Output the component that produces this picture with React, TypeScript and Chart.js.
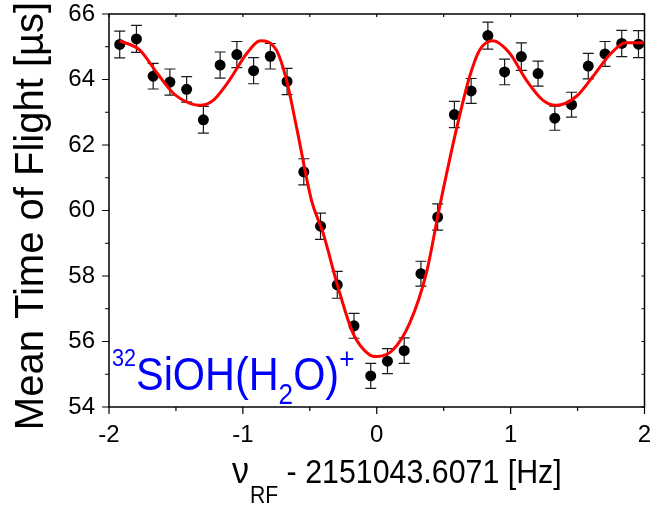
import React, { useEffect, useRef } from 'react';
import { Chart, registerables } from 'chart.js';

Chart.register(...registerables);

const FONT = '"Liberation Sans", Arial, Helvetica, sans-serif';

// Measured data points: detuning (Hz) and mean time of flight (µs)
const freqX = [-1.92, -1.795, -1.67, -1.545, -1.42, -1.295, -1.17, -1.045, -0.92, -0.795, -0.67, -0.545, -0.42, -0.295, -0.17, -0.045, 0.08, 0.205, 0.33, 0.455, 0.58, 0.705, 0.83, 0.955, 1.08, 1.205, 1.33, 1.455, 1.58, 1.705, 1.83, 1.955];
const tofMean = [65.07, 65.24, 64.10, 63.92, 63.70, 62.77, 64.44, 64.76, 64.27, 64.71, 63.94, 61.18, 59.52, 57.73, 56.48, 54.95, 55.40, 55.72, 58.07, 59.80, 62.93, 63.65, 65.34, 64.23, 64.70, 64.18, 62.82, 63.23, 64.41, 64.78, 65.10, 65.08];
const tofErr = [0.41, 0.41, 0.39, 0.40, 0.39, 0.41, 0.40, 0.40, 0.40, 0.39, 0.40, 0.40, 0.40, 0.41, 0.38, 0.38, 0.38, 0.39, 0.38, 0.40, 0.40, 0.38, 0.41, 0.39, 0.42, 0.38, 0.37, 0.38, 0.39, 0.38, 0.40, 0.41];

// Fit curve
const fitX = [-1.92, -1.77, -1.64, -1.52, -1.395, -1.32, -1.22, -1.1, -0.97, -0.868, -0.75, -0.674, -0.6, -0.488, -0.4, -0.29, -0.177, -0.052, 0.0, 0.12, 0.246, 0.37, 0.47, 0.594, 0.694, 0.769, 0.868, 0.993, 1.117, 1.24, 1.34, 1.49, 1.614, 1.739, 1.863, 2.0];
const fitY = [65.18, 64.9, 64.19, 63.58, 63.27, 63.21, 63.37, 63.98, 64.8, 65.18, 64.9, 63.98, 62.56, 60.32, 59.3, 57.67, 56.25, 55.59, 55.54, 55.74, 56.56, 58.08, 60.12, 62.46, 64.09, 64.9, 65.18, 64.8, 63.98, 63.37, 63.21, 63.48, 64.09, 64.75, 65.12, 65.12];

// Axis ticks
const xTickValues = [-2, -1.5, -1, -0.5, 0, 0.5, 1, 1.5, 2];
const xMajorTicks = [-2, -1, 0, 1, 2];
const yTickValues = [54, 55, 56, 57, 58, 59, 60, 61, 62, 63, 64, 65, 66];
const yMajorTicks = [54, 56, 58, 60, 62, 64, 66];

const yTitle = 'Mean Time of Flight [µs]';
const xTitleMain = 'ν';
const xTitleSub = 'RF';
const xTitleRest = ' - 2151043.6071 [Hz]';

const errorBarsPlugin = {
  id: 'errorBars',
  beforeDatasetsDraw(chart: any) {
    const { ctx, scales } = chart;
    const x = scales.x;
    const y = scales.y;
    ctx.save();
    ctx.strokeStyle = '#1a1a1a';
    ctx.lineWidth = 1.2;
    for (let i = 0; i < freqX.length; i++) {
      const px = x.getPixelForValue(freqX[i]);
      const top = y.getPixelForValue(tofMean[i] + tofErr[i]);
      const bot = y.getPixelForValue(tofMean[i] - tofErr[i]);
      ctx.beginPath();
      ctx.moveTo(px, top);
      ctx.lineTo(px, bot);
      ctx.moveTo(px - 5.5, top);
      ctx.lineTo(px + 5.5, top);
      ctx.moveTo(px - 5.5, bot);
      ctx.lineTo(px + 5.5, bot);
      ctx.stroke();
    }
    ctx.restore();
  },
};

const framePlugin = {
  id: 'frameAndText',
  afterDraw(chart: any) {
    const { ctx, chartArea: a, scales } = chart;
    const x = scales.x;
    const y = scales.y;
    ctx.save();
    ctx.strokeStyle = '#000';
    ctx.lineWidth = 1.5;
    ctx.strokeRect(a.left, a.top, a.right - a.left, a.bottom - a.top);

    ctx.lineWidth = 1.2;
    ctx.beginPath();
    for (const v of xTickValues) {
      const px = x.getPixelForValue(v);
      const major = xMajorTicks.includes(v);
      ctx.moveTo(px, a.bottom);
      ctx.lineTo(px, a.bottom + (major ? 7 : 4));
      ctx.moveTo(px, a.top);
      ctx.lineTo(px, a.top + 3);
    }
    for (const v of yTickValues) {
      const py = y.getPixelForValue(v);
      const major = yMajorTicks.includes(v);
      ctx.moveTo(a.left, py);
      ctx.lineTo(a.left - (major ? 7 : 4), py);
      ctx.moveTo(a.right, py);
      ctx.lineTo(a.right - 3, py);
    }
    ctx.stroke();

    // Y axis title
    ctx.fillStyle = '#000';
    ctx.save();
    ctx.translate(43, 216);
    ctx.rotate(-Math.PI / 2);
    ctx.font = `40px ${FONT}`;
    ctx.textAlign = 'center';
    ctx.textBaseline = 'alphabetic';
    ctx.fillText(yTitle, 0, 0);
    ctx.restore();

    // X axis title with subscript
    ctx.textAlign = 'left';
    ctx.textBaseline = 'alphabetic';
    ctx.save();
    ctx.translate(232, 0);
    ctx.scale(0.92, 1);
    let cx = 0;
    ctx.font = `37px ${FONT}`;
    ctx.fillText(xTitleMain, cx, 483);
    cx += ctx.measureText(xTitleMain).width + 1;
    ctx.font = `23px ${FONT}`;
    ctx.fillText(xTitleSub, cx, 503);
    cx += ctx.measureText(xTitleSub).width;
    ctx.font = `33px ${FONT}`;
    ctx.fillText(xTitleRest, cx, 483);
    ctx.restore();

    // Annotation
    ctx.fillStyle = '#0000ff';
    ctx.save();
    ctx.translate(112, 0);
    ctx.scale(0.9, 1);
    let ax = 0;
    ctx.font = `24px ${FONT}`;
    ctx.fillText('32', ax, 366);
    ax += ctx.measureText('32').width;
    ctx.font = `46px ${FONT}`;
    ctx.fillText('SiOH(H', ax, 390);
    ax += ctx.measureText('SiOH(H').width;
    ctx.font = `29px ${FONT}`;
    ctx.fillText('2', ax, 404);
    ax += ctx.measureText('2').width;
    ctx.font = `46px ${FONT}`;
    ctx.fillText('O)', ax, 390);
    ax += ctx.measureText('O)').width;
    ctx.font = `29px ${FONT}`;
    ctx.fillText('+', ax, 369);
    ctx.restore();

    ctx.restore();
  },
};

export default function App() {
  const canvasRef = useRef<HTMLCanvasElement | null>(null);

  useEffect(() => {
    const canvas = canvasRef.current;
    if (!canvas) return;
    const chart = new Chart(canvas, {
      type: 'scatter',
      data: {
        datasets: [
          {
            label: 'Fit',
            data: fitX.map((v, i) => ({ x: v, y: fitY[i] })),
            showLine: true,
            borderColor: '#ff0000',
            borderWidth: 3,
            pointRadius: 0,
            cubicInterpolationMode: 'monotone',
            fill: false,
            order: 0,
          },
          {
            label: 'Data',
            data: freqX.map((v, i) => ({ x: v, y: tofMean[i] })),
            showLine: false,
            backgroundColor: '#000',
            borderColor: '#000',
            borderWidth: 0,
            pointRadius: 5.5,
            order: 1,
          },
        ],
      } as any,
      options: {
        animation: false,
        responsive: false,
        maintainAspectRatio: false,
        devicePixelRatio: 1,
        layout: { padding: { top: 14, right: 5, left: 0, bottom: 0 } },
        plugins: {
          legend: { display: false },
          tooltip: { enabled: false },
          title: { display: false },
        },
        scales: {
          x: {
            type: 'linear',
            min: -2,
            max: 2,
            grid: { display: false, drawTicks: false },
            border: { display: false },
            ticks: {
              stepSize: 1,
              padding: 14,
              color: '#000',
              maxRotation: 0,
              font: { family: FONT, size: 24 },
            },
            afterFit(s: any) {
              s.height = 98;
              s.paddingLeft = 0;
              s.paddingRight = 0;
            },
          },
          y: {
            type: 'linear',
            min: 54,
            max: 66,
            grid: { display: false, drawTicks: false },
            border: { display: false },
            ticks: {
              stepSize: 2,
              padding: 14,
              color: '#000',
              font: { family: FONT, size: 24 },
            },
            afterFit(s: any) {
              s.width = 109;
              s.paddingTop = 0;
              s.paddingBottom = 0;
            },
          },
        },
      } as any,
      plugins: [errorBarsPlugin, framePlugin],
    });
    return () => chart.destroy();
  }, []);

  return (
    <div style={{ position: 'absolute', left: 0, top: 0, width: 650, height: 505, background: '#fff' }}>
      <canvas ref={canvasRef} width={650} height={505} style={{ display: 'block' }} />
    </div>
  );
}
